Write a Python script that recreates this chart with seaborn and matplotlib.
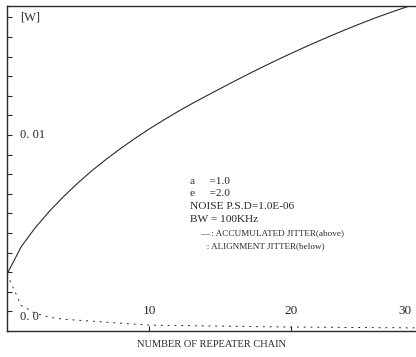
import numpy as np
import pandas as pd
import matplotlib
matplotlib.use("Agg")
import matplotlib.pyplot as plt
import seaborn as sns

# ---- data ----
repeaters = list(range(0, 30))
accumulated = [0.00290, 0.00430, 0.00528, 0.00612, 0.00687, 0.00756, 0.00819,
               0.00877, 0.00931, 0.00982, 0.01030, 0.01075, 0.01118, 0.01159,
               0.01198, 0.01236, 0.01274, 0.01311, 0.01347, 0.01382, 0.01416,
               0.01449, 0.01481, 0.01512, 0.01542, 0.01571, 0.01599, 0.01625,
               0.01650, 0.01673]
alignment = [0.0029, 0.0013, 0.0009, 0.0007, 0.0006, 0.00055, 0.0005, 0.00045,
             0.0004, 0.00035, 0.0003, 0.00029, 0.00028, 0.00027, 0.00026,
             0.00025, 0.00024, 0.00023, 0.00022, 0.00021, 0.0002, 0.0002,
             0.00019, 0.00019, 0.00018, 0.00018, 0.00017, 0.00017, 0.00016,
             0.00016]
x_tick_vals = [10, 20]
x_tick_labels = ["10", "20", "30"]
x_tick_label_pos = [10, 20, 28.0]
y_tick_labels = ["0. 0", "0. 01"]
y_tick_vals = [0.0, 0.01]
annotation_lines = ["a     =1.0", "e     =2.0", "NOISE P.S.D=1.0E-06", "BW = 100KHz"]
legend_lines = ["\u2014 : ACCUMULATED JITTER(above)", "   : ALIGNMENT JITTER(below)"]

df = pd.DataFrame({
    "n": repeaters * 2,
    "value": accumulated + alignment,
    "kind": ["accumulated"] * len(repeaters) + ["alignment"] * len(repeaters),
})

sns.set_style("ticks")
plt.rcParams["font.family"] = ["Liberation Serif", "DejaVu Serif"]

fig = plt.figure(figsize=(4.16, 3.57), dpi=100)
ax = fig.add_axes([7 / 416, 26 / 357, 409 / 416, 325 / 357])

col = "#2a2a2a"
sns.lineplot(data=df[df.kind == "accumulated"], x="n", y="value", ax=ax,
             color=col, lw=0.8, legend=False)
sns.lineplot(data=df[df.kind == "alignment"], x="n", y="value", ax=ax,
             color=col, lw=0.7, legend=False, linestyle=(0, (2, 5)))

ax.set_xlim(0, 28.8)
ax.set_ylim(0, 0.01658)

for s in ["left", "top", "bottom"]:
    ax.spines[s].set_color(col)
    ax.spines[s].set_linewidth(1.0)
ax.spines["right"].set_visible(False)

ax.set_xticks(x_tick_vals)
ax.set_xticklabels([])
ax.set_yticks(np.arange(0, 0.0166, 0.001))
ax.set_yticklabels([])
ax.tick_params(direction="in", length=3.5, width=0.8, color=col)

for lab, xv in zip(x_tick_labels, x_tick_label_pos):
    ax.text(xv, 0.0007, lab, ha="center", va="bottom", fontsize=9.5, color=col)
ax.text(0.9, 0.0004, y_tick_labels[0], ha="left", va="bottom", fontsize=9, color=col)
ax.text(0.9, 0.0100, y_tick_labels[1], ha="left", va="center", fontsize=9, color=col)
ax.text(0.9, 0.0160, "[W]", ha="left", va="center", fontsize=9, color=col)

ax.set_xlabel("NUMBER OF REPEATER CHAIN", fontsize=7.5, color=col, labelpad=3)
ax.set_ylabel("")

y0 = 0.00765
for i, t in enumerate(annotation_lines):
    ax.text(12.9, y0 - i * 0.00066, t, ha="left", va="center", fontsize=8.2, color=col)
ax.text(13.6, y0 - 4 * 0.00066, legend_lines[0], ha="left", va="center", fontsize=6.6, color=col)
ax.text(13.6, y0 - 5 * 0.00066, legend_lines[1], ha="left", va="center", fontsize=6.6, color=col)

fig.savefig("out.png", dpi=100)
